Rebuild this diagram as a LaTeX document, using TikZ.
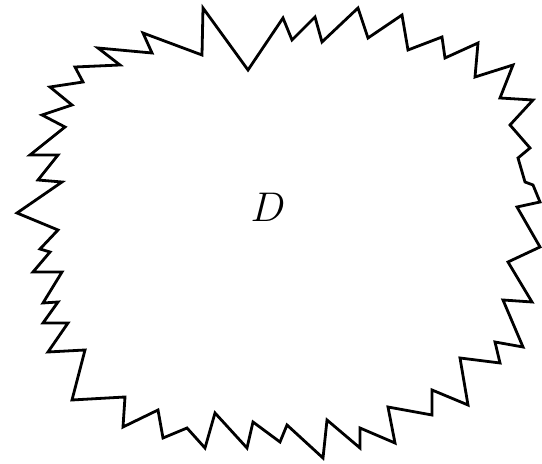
\documentclass[tikz,border=0pt]{standalone}
\begin{document}
\begin{tikzpicture}[x=0.5pt,y=-0.5pt,line join=miter,line width=1.4pt]
  \useasboundingbox (0,0) rectangle (542,464);
  % jagged boundary
  \draw (17,213) -- (62,182) -- (38,180) -- (58,155) -- (30,155) -- (65,127)
    -- (42,115) -- (72,105) -- (50,87) -- (83,82) -- (75,67) -- (120,65)
    -- (98,48) -- (152,53) -- (143,33) -- (202,55) -- (203,8) -- (248,70)
    -- (283,18) -- (292,40) -- (315,17) -- (322,42) -- (358,8) -- (368,38)
    -- (402,15) -- (408,50) -- (442,37) -- (445,58) -- (478,43) -- (475,77)
    -- (513,65) -- (500,98) -- (533,100) -- (510,125) -- (530,148) -- (518,158)
    -- (525,182) -- (533,185) -- (540,202) -- (517,207) -- (540,247) -- (508,262)
    -- (532,302) -- (503,300) -- (523,347) -- (495,342) -- (500,363) -- (460,358)
    -- (468,405) -- (432,390) -- (432,415) -- (388,407) -- (395,443) -- (360,428)
    -- (360,448) -- (327,420) -- (323,458) -- (287,425) -- (280,442) -- (253,422)
    -- (247,448) -- (215,413) -- (205,448) -- (187,428) -- (163,438) -- (158,410)
    -- (123,427) -- (125,397) -- (72,400) -- (85,350) -- (48,352) -- (68,323)
    -- (43,323) -- (58,302) -- (43,303) -- (62,272) -- (33,272) -- (50,252)
    -- (40,249) -- (58,230) -- cycle;
  \node[font=\fontsize{21}{25}\selectfont] (lbl) at (268,207) {$D$};
\end{tikzpicture}
\end{document}
